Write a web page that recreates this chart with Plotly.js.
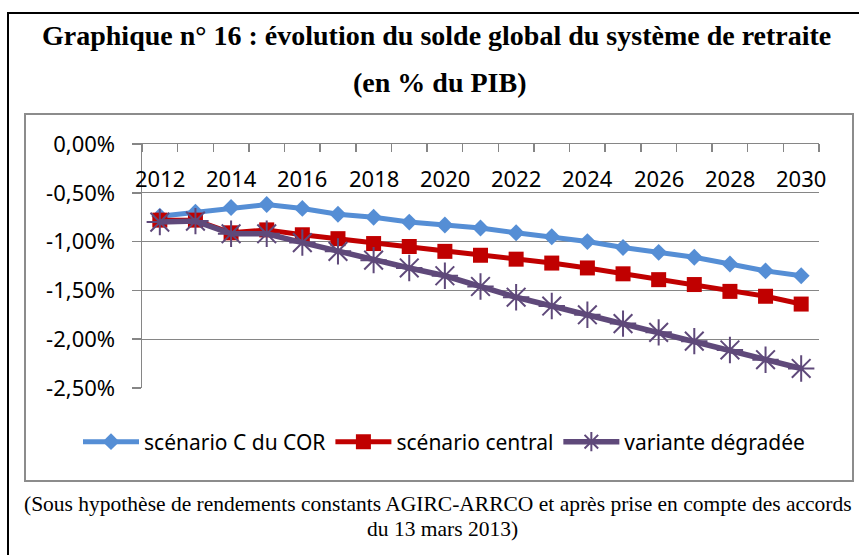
<!DOCTYPE html>
<html>
<head>
<meta charset="utf-8">
<script src="https://cdn.plot.ly/plotly-3.0.1.min.js"></script>
<style>html,body{margin:0;padding:0;background:#fff;}#chart{width:859px;height:555px;}</style>
</head>
<body>
<div id="chart"></div>
<script>
const years = [2012,2013,2014,2015,2016,2017,2018,2019,2020,2021,2022,2023,2024,2025,2026,2027,2028,2029,2030];
const scenarioC = [-0.74,-0.70,-0.65,-0.62,-0.66,-0.72,-0.75,-0.80,-0.83,-0.86,-0.91,-0.95,-1.00,-1.06,-1.11,-1.16,-1.23,-1.30,-1.35];
const scenarioCentral = [-0.78,-0.78,-0.91,-0.88,-0.93,-0.97,-1.02,-1.05,-1.10,-1.14,-1.18,-1.22,-1.27,-1.33,-1.39,-1.44,-1.51,-1.56,-1.64];
const varianteDegradee = [-0.80,-0.79,-0.92,-0.92,-1.01,-1.10,-1.19,-1.27,-1.35,-1.46,-1.57,-1.66,-1.75,-1.84,-1.93,-2.02,-2.11,-2.21,-2.30];
const seriesNames = ["scénario C du COR","scénario central","variante dégradée"];
const yTickVals = [0,-0.5,-1,-1.5,-2,-2.5];
const yTickText = ["0,00%","-0,50%","-1,00%","-1,50%","-2,00%","-2,50%"];
const xTickVals = [2012,2014,2016,2018,2020,2022,2024,2026,2028,2030];

const L=142,R=819,T=144,B=388;
const fx = p => (p-L)/(R-L);
const fy = p => (B-p)/(B-T);

const traces = [
  {x:years,y:scenarioC,name:seriesNames[0],type:'scatter',mode:'lines+markers',
   line:{color:'#558ED5',width:5},marker:{symbol:'diamond',size:13,color:'#558ED5'}},
  {x:years,y:scenarioCentral,name:seriesNames[1],type:'scatter',mode:'lines+markers',
   line:{color:'#C00000',width:5},marker:{symbol:'square',size:15,color:'#C00000'}},
  {x:years,y:varianteDegradee,name:seriesNames[2],type:'scatter',mode:'lines+markers',
   line:{color:'#5F497A',width:5.5},marker:{symbol:'asterisk-open',size:22,color:'#5F497A',line:{color:'#5F497A',width:2}}}
];

const xLabelAnnotations = xTickVals.map(v => ({
  text:String(v),xref:'x',yref:'paper',x:v,y:fy(178),xanchor:'center',yanchor:'middle',showarrow:false,
  font:{family:'Noto Sans',size:22,color:'#000'}
}));

const layout = {
  width:859,height:555,
  margin:{l:L,r:859-R,t:T,b:555-B,autoexpand:false},
  paper_bgcolor:'#fff',plot_bgcolor:'#fff',
  showlegend:true,
  font:{family:'Noto Sans, sans-serif',color:'#000'},
  xaxis:{type:'linear',range:[2011.5,2030.5],side:'top',showline:true,linecolor:'#868686',linewidth:1.5,
    tickvals:xTickVals,ticks:'',showticklabels:false,showgrid:false,zeroline:false,
    minor:{dtick:1,tick0:2011.5,ticks:'inside',ticklen:8,tickcolor:'#868686',tickwidth:1.5,showgrid:false}},
  yaxis:{range:[-2.5,0],tickvals:yTickVals,ticktext:yTickText,showline:true,linecolor:'#868686',linewidth:1.5,
    ticks:'outside',ticklen:9,tickcolor:'#868686',tickwidth:1.5,ticklabelstandoff:12,
    showgrid:true,gridcolor:'#868686',gridwidth:1,zeroline:false,automargin:false,
    tickfont:{size:22,family:'Noto Sans'}},
  legend:{orientation:'h',xref:'paper',x:fx(78),xanchor:'left',yref:'paper',y:fy(442),yanchor:'middle',
    font:{size:21,family:'Noto Sans'},itemwidth:56,tracegroupgap:0,bgcolor:'rgba(0,0,0,0)'},
  shapes:[
    {type:'rect',xref:'paper',yref:'paper',x0:fx(8),x1:fx(875),y0:fy(13),y1:fy(575),line:{color:'#000',width:2}},
    {type:'rect',xref:'paper',yref:'paper',x0:fx(25),x1:fx(853),y0:fy(114),y1:fy(481),line:{color:'#8C8C8C',width:2}}
  ],
  annotations:[
    {text:'<b>Graphique n° 16 : évolution du solde global du système de retraite</b>',xref:'paper',yref:'paper',
     x:fx(436),y:fy(36),xanchor:'center',yanchor:'middle',showarrow:false,font:{family:'Liberation Serif',size:28,color:'#000'}},
    {text:'<b>(en % du PIB)</b>',xref:'paper',yref:'paper',
     x:fx(439),y:fy(82),xanchor:'center',yanchor:'middle',showarrow:false,font:{family:'Liberation Serif',size:28,color:'#000'}},
    {text:'(Sous hypothèse de rendements constants AGIRC-ARRCO et après prise en compte des accords',xref:'paper',yref:'paper',
     x:fx(438),y:fy(504),xanchor:'center',yanchor:'middle',showarrow:false,font:{family:'Liberation Serif',size:21.5,color:'#000'}},
    {text:'du 13 mars 2013)',xref:'paper',yref:'paper',
     x:fx(442),y:fy(529),xanchor:'center',yanchor:'middle',showarrow:false,font:{family:'Liberation Serif',size:21.5,color:'#000'}}
  ].concat(xLabelAnnotations)
};
Plotly.newPlot('chart',traces,layout,{displayModeBar:false,staticPlot:true});
</script>
</body>
</html>
